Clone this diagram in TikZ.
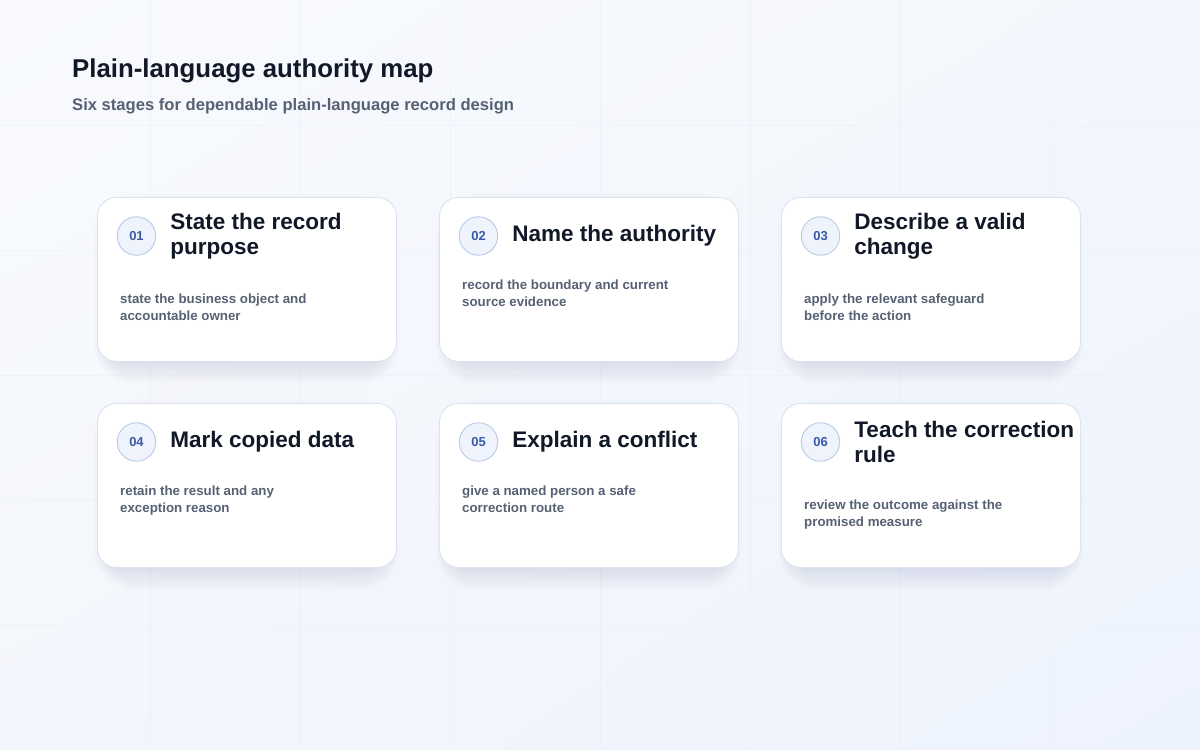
\documentclass[tikz,border=0pt]{standalone}
\usepackage{fontspec}
\setmainfont{Liberation Sans}
\usetikzlibrary{positioning,shadings}

\definecolor{bgtl}{HTML}{F8FAFD}
\definecolor{bgtr}{HTML}{F3F6FC}
\definecolor{bgbl}{HTML}{F3F6FC}
\definecolor{bgbr}{HTML}{EDF3FD}
\definecolor{gridline}{HTML}{E3E8F1}
\definecolor{cardline}{HTML}{DCE3EE}
\definecolor{shadowblue}{HTML}{5A6A9E}
\definecolor{badgefill}{HTML}{EEF3FC}
\definecolor{badgeline}{HTML}{BACAE6}
\definecolor{badgetext}{HTML}{3A5AA6}
\definecolor{ink}{HTML}{111827}
\definecolor{muted}{HTML}{566174}

\begin{document}
\begin{tikzpicture}[x=1pt,y=-1pt,
						% Define styles for the cards and their parts
						card style/.style={draw=cardline, fill=white, line width=0.9pt, rounded corners=19pt, minimum width=299pt, minimum height=164pt, inner sep=0pt, anchor=north west},
						badge style/.style={circle, draw=badgeline, fill=badgefill, line width=0.9pt, minimum size=38.5pt, inner sep=0pt, text=badgetext, font=\bfseries\fontsize{13pt}{13pt}\selectfont},
						title style/.style={anchor=west, align=left, inner sep=0pt, text=ink, font=\bfseries\fontsize{22.5pt}{24.5pt}\selectfont},
						text style/.style={anchor=base west, align=left, inner sep=0pt, text=muted, font=\bfseries\fontsize{13.3pt}{16.8pt}\selectfont}
						]
						
						% Background and faint grid
						\useasboundingbox (0,0) rectangle (1200,750);
						\shade[upper left=bgtl, upper right=bgtr, lower left=bgbl, lower right=bgbr] (0,0) rectangle (1200,750);
						\foreach \gx in {150,300,...,1050}
							\draw[gridline, opacity=0.3, line width=1pt] (\gx,0) -- (\gx,750);
						\foreach \gy in {125,250,...,625}
							\draw[gridline, opacity=0.3, line width=1pt] (0,\gy) -- (1200,\gy);
						
						% Heading
						\node[anchor=base west, inner sep=0pt, text=ink, font=\bfseries\fontsize{25.8pt}{28pt}\selectfont] (heading) at (72,77) {Plain-language authority map};
						\node[anchor=base west, inner sep=0pt, text=muted, font=\bfseries\fontsize{16.6pt}{19pt}\selectfont] (subheading) at (72,110) {Six stages for dependable plain-language record design};
						
						% --- Place the cards ---
						% (\dy is the base line of the last text line)
						\foreach \n/\cx/\cy/\ttl/\dsc/\dy in {
							01/97/197/{State the record\\purpose}/{state the business object and\\accountable owner}/123,
							02/439/197/{Name the authority}/{record the boundary and current\\source evidence}/109.5,
							03/781/197/{Describe a valid\\change}/{apply the relevant safeguard\\before the action}/123,
							04/97/403/{Mark copied data}/{retain the result and any\\exception reason}/109.5,
							05/439/403/{Explain a conflict}/{give a named person a safe\\correction route}/109.5,
							06/781/403/{Teach the correction\\rule}/{review the outcome against the\\promised measure}/123}{
							% soft shadow under the card
							\foreach \s [evaluate=\s as \r using 20+\s] in {0,2,...,22}
								\fill[shadowblue, opacity=0.011, rounded corners=\r pt] (\cx+10-0.6*\s,\cy+18-\s) rectangle (\cx+289+0.6*\s,\cy+166+\s);
							\node[card style] (card\n) at (\cx,\cy) {};
							\node[badge style] (badge\n) at (\cx+39.5,\cy+39) {\n};
							\node[title style, right=14pt of badge\n] (title\n) {\ttl};
							\node[text style] (text\n) at (\cx+23,\cy+\dy) {\dsc};
						}
					\end{tikzpicture}
\end{document}
